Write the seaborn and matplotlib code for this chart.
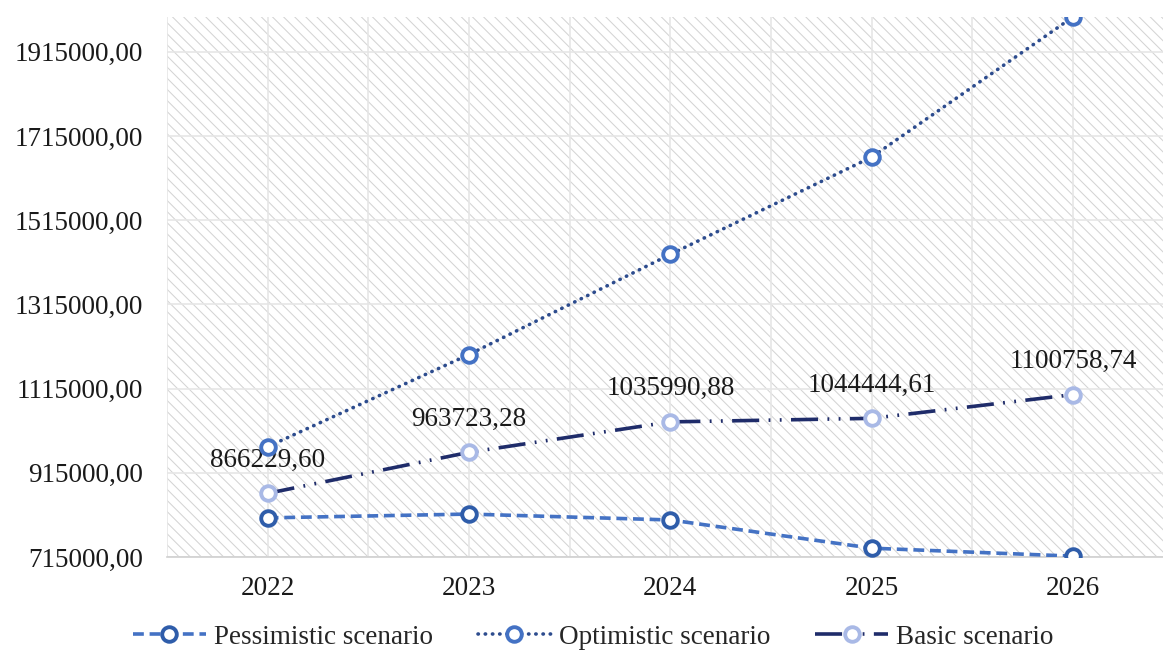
import matplotlib
matplotlib.use("Agg")
import matplotlib.pyplot as plt
import seaborn as sns
import pandas as pd
from matplotlib.lines import Line2D

# Scenario forecasts by year
years = ["2022", "2023", "2024", "2025", "2026"]
pessimistic = [808000, 817000, 803000, 736000, 717000]
optimistic = [977000, 1196000, 1434000, 1665000, 1998000]
basic = [866229.60, 963723.28, 1035990.88, 1044444.61, 1100758.74]
basic_labels = ["866229,60", "963723,28", "1035990,88", "1044444,61", "1100758,74"]
y_ticks = [715000, 915000, 1115000, 1315000, 1515000, 1715000, 1915000]
y_tick_labels = ["715000,00", "915000,00", "1115000,00", "1315000,00",
                 "1515000,00", "1715000,00", "1915000,00"]
series_names = ["Pessimistic scenario", "Optimistic scenario", "Basic scenario"]

sns.set_theme(style="white")
plt.rcParams["font.family"] = ["Liberation Serif", "DejaVu Serif"]
plt.rcParams["hatch.color"] = "#d4d4d4"
plt.rcParams["hatch.linewidth"] = 0.75

FS = 19.5

df = pd.DataFrame({
    "year": years * 3,
    "value": pessimistic + optimistic + basic,
    "scenario": [series_names[0]] * 5 + [series_names[1]] * 5 + [series_names[2]] * 5,
})
df["pos"] = list(range(len(years))) * 3

fig = plt.figure(figsize=(11.63, 6.57), dpi=100)
ax = fig.add_axes([0.1436, 0.1522, 0.8564, 0.822])

# hatched plot background
ax.set_facecolor("white")
ax.patch.set_hatch("\\\\\\")
ax.patch.set_edgecolor("#d4d4d4")
ax.patch.set_linewidth(0)

LW = 2.6
styles = {
    series_names[0]: dict(color="#4472C4", ls=(0, (3.0, 1.6)), mec="#2F5DAA", cap="butt"),
    series_names[1]: dict(color="#2D4C8E", ls=(0, (0.1, 1.9)), mec="#4472C4", cap="round"),
    series_names[2]: dict(color="#1F2C6A", ls=(0, (7.5, 2.6, 0.5, 2.6, 0.5, 2.6)), mec="#A9B9E6", cap="butt"),
}

handles = []
for name in series_names:
    st = styles[name]
    sub = df[df["scenario"] == name]
    sns.lineplot(data=sub, x="pos", y="value", ax=ax, color=st["color"],
                 linewidth=LW, marker="o", markersize=10.5, markerfacecolor="white",
                 markeredgecolor=st["mec"], markeredgewidth=2.8,
                 zorder=4, legend=False)
    line = ax.lines[-1]
    line.set_linestyle(st["ls"])
    line.set_dash_capstyle(st["cap"])
    h = Line2D([], [], color=st["color"], ls=st["ls"], lw=LW,
               marker="o", markersize=10.5, markerfacecolor="white",
               markeredgecolor=st["mec"], markeredgewidth=2.8)
    h.set_dash_capstyle(st["cap"])
    handles.append(h)

# value labels above the basic scenario points
for i, (v, lab) in enumerate(zip(basic, basic_labels)):
    ax.annotate(lab, (i, v), xytext=(0, 15), textcoords="offset points",
                ha="center", va="bottom", fontsize=FS, color="#1a1a1a")

ax.set_xlim(-0.5, 4.447)
ax.set_ylim(715000, 1998000)
ax.set_xticks(range(len(years)))
ax.set_xticklabels(years)
ax.set_yticks(y_ticks)
ax.set_yticklabels(y_tick_labels)
ax.set_xlabel("")
ax.set_ylabel("")
ax.tick_params(axis="both", length=0, labelsize=FS, labelcolor="#1a1a1a")
ax.tick_params(axis="y", pad=17)
ax.tick_params(axis="x", pad=14)

# grid at every half category and at each value tick
for k in range(11):
    ax.axvline(-0.5 + 0.5 * k, color="#e6e6e6", lw=1.2, zorder=1)
for t in y_ticks:
    ax.axhline(t, color="#e6e6e6", lw=1.2, zorder=1)
ax.grid(False)

for side in ["top", "right", "left"]:
    ax.spines[side].set_visible(False)
ax.spines["bottom"].set_color("#d0d0d0")
ax.spines["bottom"].set_linewidth(1.2)

fig.legend(handles, series_names, loc="center", bbox_to_anchor=(0.51, 0.03),
           ncol=3, frameon=False, fontsize=FS, handlelength=2.7,
           columnspacing=1.65, handletextpad=0.3)

fig.savefig("out.png", dpi=100)
